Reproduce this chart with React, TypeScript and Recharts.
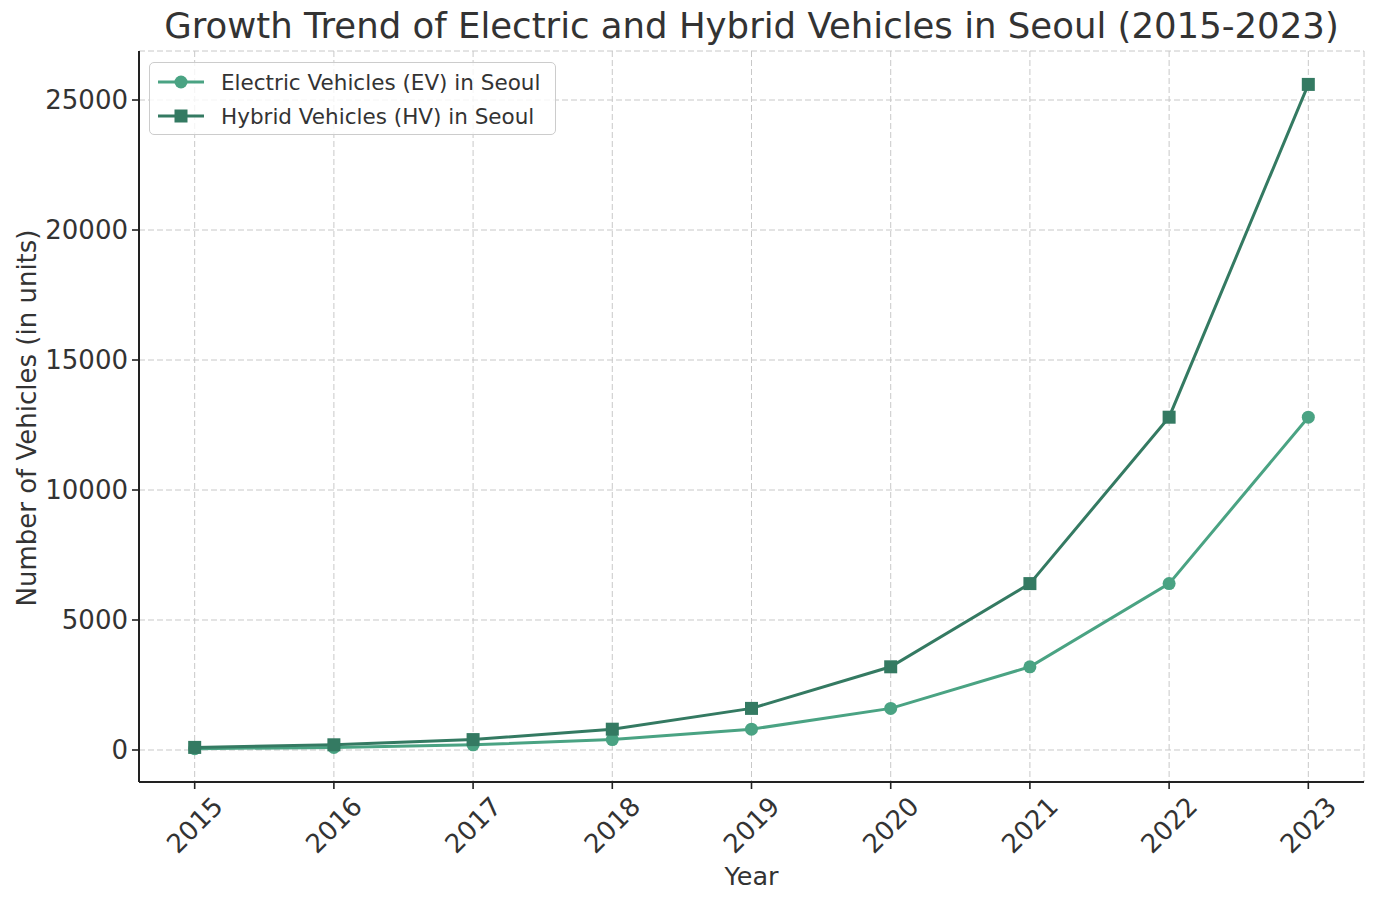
import React from "react";
import { LineChart, Line, XAxis, YAxis, CartesianGrid } from "recharts";

// Registered vehicle counts per year
const years = [2015, 2016, 2017, 2018, 2019, 2020, 2021, 2022, 2023];
const evCounts = [50, 100, 200, 400, 800, 1600, 3200, 6400, 12800];
const hvCounts = [100, 200, 400, 800, 1600, 3200, 6400, 12800, 25600];
const yTicks = [0, 5000, 10000, 15000, 20000, 25000];

const EV_COLOR = "#4aa383";
const HV_COLOR = "#347a62";
const TEXT = "#333333";
const FONT = "DejaVu Sans, sans-serif";

const data = years.map((year, i) => ({
  year,
  ev: evCounts[i],
  hv: hvCounts[i],
}));

const W = 1374;
const H = 902;
const PLOT_BOTTOM = 782;

const XTick = (props: any) => {
  const { x, payload } = props;
  return (
    <g>
      <line x1={x} x2={x} y1={PLOT_BOTTOM} y2={PLOT_BOTTOM + 7} stroke="#222" strokeWidth={1.6} />
      <text
        x={x}
        y={825}
        transform={`rotate(-45 ${x} 825)`}
        textAnchor="middle"
        dominantBaseline="central"
        fontSize={26}
        fill={TEXT}
        fontFamily={FONT}
      >
        {payload.value}
      </text>
    </g>
  );
};

const YTick = (props: any) => {
  const { y, payload } = props;
  return (
    <g>
      <line x1={132} x2={139} y1={y} y2={y} stroke="#222" strokeWidth={1.6} />
      <text
        x={128}
        y={y}
        textAnchor="end"
        dominantBaseline="central"
        fontSize={26}
        fill={TEXT}
        fontFamily={FONT}
      >
        {payload.value}
      </text>
    </g>
  );
};

const SquareDot = (props: any) => {
  const { cx, cy } = props;
  if (cx == null || cy == null) return null;
  return <rect x={cx - 6.5} y={cy - 6.5} width={13} height={13} fill={HV_COLOR} />;
};

const legendItems = [
  { label: "Electric Vehicles (EV) in Seoul", color: EV_COLOR, shape: "circle" },
  { label: "Hybrid Vehicles (HV) in Seoul", color: HV_COLOR, shape: "square" },
];

const LegendBox = () => (
  <div
    style={{
      position: "absolute",
      left: 149,
      top: 62,
      width: 407,
      height: 73,
      border: "1.5px solid #cccccc",
      borderRadius: 5,
      background: "rgba(255,255,255,0.8)",
      boxSizing: "border-box",
      fontFamily: FONT,
      fontSize: 21.5,
      color: TEXT,
      padding: "2px 0 0 7px",
    }}
  >
    {legendItems.map((item) => (
      <div key={item.label} style={{ display: "flex", alignItems: "center", height: 34 }}>
        <svg width={48} height={20} style={{ marginRight: 16 }}>
          <line x1={1} x2={47} y1={10} y2={10} stroke={item.color} strokeWidth={3} />
          {item.shape === "circle" ? (
            <circle cx={24} cy={10} r={6.5} fill={item.color} />
          ) : (
            <rect x={17.5} y={3.5} width={13} height={13} fill={item.color} />
          )}
        </svg>
        <span>{item.label}</span>
      </div>
    ))}
  </div>
);

export default function App() {
  return (
    <div style={{ position: "absolute", left: 0, top: 0, width: W, height: H, background: "#fff" }}>
      <LineChart
        width={W}
        height={H}
        data={data}
        margin={{ top: 51, right: 10, bottom: 60, left: 59 }}
      >
        <text x={751.5} y={38} textAnchor="middle" fontSize={35.5} fill={TEXT} fontFamily={FONT}>
          Growth Trend of Electric and Hybrid Vehicles in Seoul (2015-2023)
        </text>
        <CartesianGrid stroke="#c8c8c8" strokeDasharray="6 3" strokeWidth={1} />
        <XAxis
          dataKey="year"
          type="number"
          domain={[2014.6, 2023.4]}
          ticks={years}
          height={60}
          axisLine={{ stroke: "#222", strokeWidth: 2 }}
          tickLine={false}
          tick={<XTick />}
          interval={0}
        />
        <YAxis
          type="number"
          domain={[-1231, 26885]}
          ticks={yTicks}
          width={80}
          axisLine={{ stroke: "#222", strokeWidth: 2 }}
          tickLine={false}
          tick={<YTick />}
          interval={0}
        />
        <text x={751.5} y={885} textAnchor="middle" fontSize={25.5} fill={TEXT} fontFamily={FONT}>
          Year
        </text>
        <text
          x={27}
          y={418}
          transform="rotate(-90 27 418)"
          textAnchor="middle"
          dominantBaseline="central"
          fontSize={26}
          fill={TEXT}
          fontFamily={FONT}
        >
          Number of Vehicles (in units)
        </text>
        <Line
          dataKey="ev"
          stroke={EV_COLOR}
          strokeWidth={3}
          dot={{ r: 6.5, fill: EV_COLOR, stroke: "none" }}
          activeDot={false}
          isAnimationActive={false}
        />
        <Line
          dataKey="hv"
          stroke={HV_COLOR}
          strokeWidth={3}
          dot={<SquareDot />}
          activeDot={false}
          isAnimationActive={false}
        />
      </LineChart>
      <LegendBox />
    </div>
  );
}
